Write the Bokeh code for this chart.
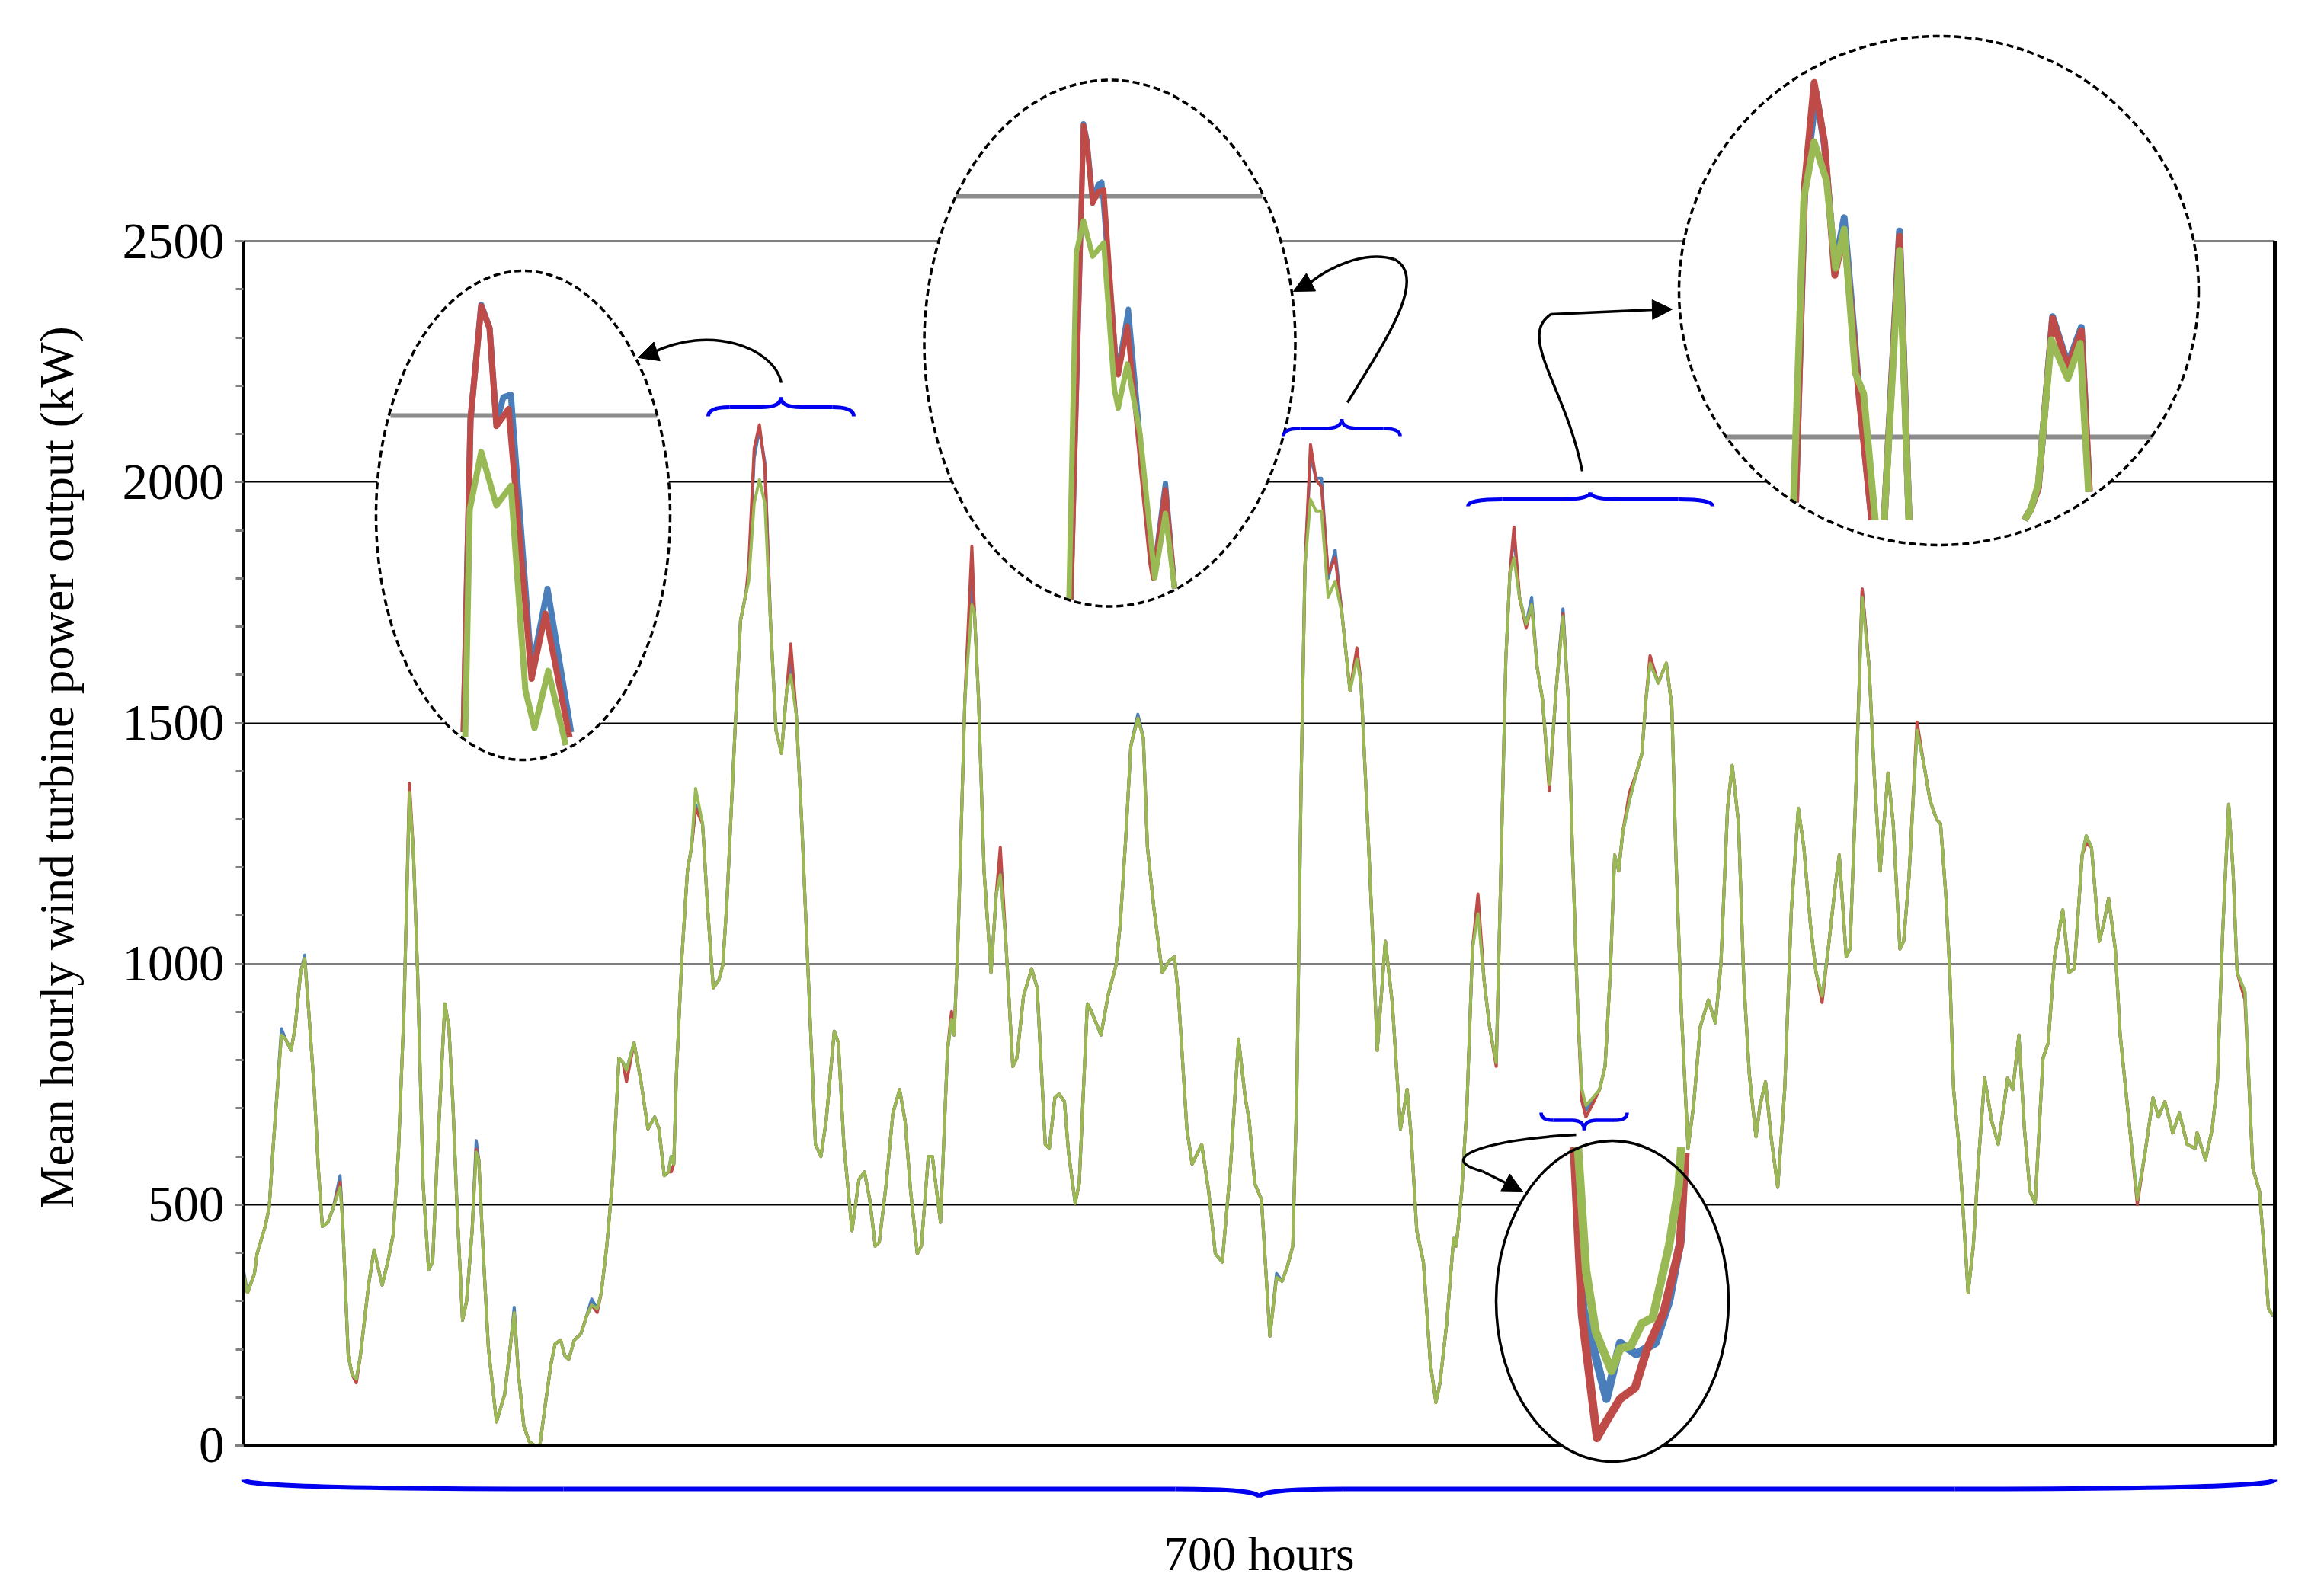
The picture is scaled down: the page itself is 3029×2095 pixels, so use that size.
from bokeh.plotting import figure
from bokeh.models import Range1d, LinearAxis, FixedTicker, Arrow, NormalHead
from bokeh.embed import file_html
from bokeh.resources import INLINE

# ---------------- main series (hour, kW) ----------------
hours = [
    0, 1.4, 3.8, 4.7, 7.5, 8.9, 10.3, 13.1, 14.5, 16.4,
    17.8, 19.7, 21.1, 22.5, 24.4, 25.8, 27.2, 29.1, 31.0, 33.3,
    34.2, 36.1, 37.5, 38.9, 40.3, 43.1, 45.0, 47.8, 49.7, 51.6,
    53.4, 55.3, 57.2, 58.6, 60.0, 61.9, 63.8, 65.2, 66.6, 69.4,
    70.8, 72.2, 73.6, 75.5, 76.9, 78.8, 80.2, 81.1, 82.5, 84.4,
    87.2, 90.0, 91.9, 93.3, 94.7, 96.6, 98.5, 100.3, 102.2, 104.1,
    106.0, 107.4, 109.3, 110.7, 112.1, 114.0, 116.3, 118.2, 120.0, 121.9,
    123.3, 125.2, 127.1, 129.4, 130.8, 132.0, 134.6, 137.0,
    139.4, 141.7, 143.2, 145.0, 146.4, 147.4, 148.3, 149.2, 151.1, 153.0,
    154.4, 155.8, 158.2, 160.0, 161.9, 163.8, 165.2, 166.6, 169.4, 171.3,
    173.2, 174.1, 176.0, 177.8, 179.7, 181.6, 183.5, 185.4, 187.2, 188.6,
    190.5, 192.4, 194.7, 197.1, 199.0, 200.8, 203.6, 205.0, 206.9, 209.7,
    212.1, 214.0, 215.8, 217.7, 219.1, 221.5, 223.8, 226.1, 228.0, 229.9,
    232.2, 233.6, 236.0, 237.4, 240.2, 242.6, 244.0, 244.9, 246.3, 248.6,
    251.0, 251.9, 253.3, 255.2, 257.6, 259.4, 260.8, 262.7, 265.1, 266.5,
    268.8, 271.6, 273.5, 276.3, 277.7, 279.6, 281.0, 282.9, 284.3,
    286.6, 288.0, 290.8, 292.2, 295.5, 297.9, 300.7, 302.1, 304.0, 305.8,
    308.2, 310.1, 311.5, 313.8, 316.6, 319.0, 320.8, 322.2, 325.1, 326.9,
    330.2, 332.6, 334.9, 337.3, 340.1, 342.9, 345.2, 346.6, 348.5, 350.8,
    353.7, 356.0, 357.9, 359.8, 361.6, 363.0, 364.5, 365.8, 367.7, 369.6,
    371.5, 373.8, 376.2, 378.5, 381.3, 383.7, 385.1, 387.4, 389.3, 390.7,
    393.5, 395.9, 398.7, 401.0, 402.4, 404.3, 406.6, 409.0, 410.9, 412.3,
    414.6, 417.0, 417.9, 419.8, 421.6, 423.5, 425.4,
    427.5, 429.4, 431.7, 433.1, 435.0, 436.4, 437.8, 439.7, 442.0, 443.9,
    445.8, 447.6, 450.0, 452.3, 454.7, 456.5, 458.0, 459.8, 461.2, 462.6,
    465.0, 467.3, 469.2, 471.0, 472.5, 473.9, 475.3, 477.6, 480.0, 481.9,
    483.3, 484.7, 487.5, 490.3, 492.2, 493.6, 495.5, 497.8, 499.7, 502.0,
    504.8, 507.2, 509.1, 511.4, 513.0, 515.2, 517.0, 518.9, 521.2, 522.6,
    524.5, 526.4, 528.7, 531.1, 533.4, 535.8, 537.7, 540.0, 541.9, 544.0,
    546.1, 548.5, 549.9, 552.3, 553.6, 555.5, 557.8, 560.2, 562.0,
    564.0, 566.7, 568.5, 570.8, 572.1, 573.9, 576.7, 578.9, 581.2, 583.5,
    584.8, 586.6, 588.0, 589.3, 591.1, 592.5, 594.3, 596.1, 597.9, 600.0,
    602.4, 604.7, 607.0, 607.9, 609.7, 611.8, 613.7, 615.6, 617.4, 620.1,
    621.9, 624.1, 626.9, 629.1, 630.9, 633.6, 635.0, 636.8, 639.5, 640.9,
    642.7, 645.0, 646.7, 650.0, 652.6, 655.3, 658.0, 659.9, 662.1, 664.8,
    667.1, 669.8, 672.5, 673.2, 676.1, 678.4, 680.2, 682.0, 684.1, 685.6,
    687.0, 689.7, 692.4, 694.7, 696.0, 697.8, 699.5,
]

green = [
    357, 317, 357, 398, 455, 495, 625, 852, 844, 820,
    868, 982, 1011, 901, 739, 576, 455, 463, 495, 536,
    463, 187, 146, 138, 187, 333, 406, 333, 381, 438,
    609, 901, 1356, 1226, 982, 544, 365, 381, 576, 917,
    869, 706, 495, 260, 300, 446, 609, 593, 414, 203,
    49, 106, 203, 276, 154, 41, 8, 0, 3, 89,
    170, 211, 219, 187, 179, 219, 232, 268, 292, 284,
    317, 414, 544, 804, 795, 779, 836, 755,
    657, 682, 657, 560, 568, 600, 584, 771, 1015, 1193,
    1242, 1364, 1291, 1112, 950, 966, 998, 1128, 1485, 1713,
    1770, 1794, 1956, 2005, 1956, 1713, 1485, 1437, 1567, 1599,
    1518, 1291, 966, 625, 600, 674, 860, 836, 625, 446,
    552, 568, 511, 414, 422, 544, 690, 739, 674, 528,
    398, 414, 600, 600, 463, 820, 885, 852, 1063, 1550,
    1745, 1729, 1550, 1193, 982, 1145, 1185, 1047, 787, 804,
    933, 990, 950, 625, 617, 722, 730, 714, 609,
    503, 544, 917, 901, 852, 933, 998, 1080, 1258, 1453,
    1510, 1469, 1242, 1112, 982, 1006, 1015, 933, 657, 584,
    625, 528, 398, 381, 576, 844, 722, 674, 544, 511,
    227, 349, 341, 373, 414, 739, 1388, 1826, 1964, 1940,
    1940, 1761, 1794, 1729, 1567, 1632, 1583, 1291, 1031, 820,
    1047, 917, 657, 739, 641, 446, 381, 170, 89, 130,
    252, 430, 414, 528, 706, 1031, 1104,
    966, 869, 795, 1145, 1632, 1810, 1843, 1761, 1705, 1745,
    1615, 1550, 1372, 1567, 1721, 1550, 1226, 901, 739, 706,
    722, 739, 787, 982, 1226, 1193, 1274, 1339, 1396, 1437,
    1550, 1624, 1583, 1624, 1534, 1226, 901, 617, 706, 869,
    925, 877, 998, 1323, 1412, 1291, 966, 771, 641, 706,
    755, 641, 536, 739, 1112, 1323, 1242, 1080, 982, 933,
    1031, 1161, 1226, 1015, 1031, 1339, 1761, 1615, 1388,
    1193, 1396, 1291, 1031, 1047, 1177, 1485, 1420, 1339, 1299,
    1291, 1145, 982, 739, 625, 495, 317, 414, 593, 763,
    674, 625, 722, 763, 739, 852, 657, 528, 503, 804,
    836, 1015, 1112, 982, 990, 1226, 1266, 1242, 1047, 1080,
    1136, 1031, 852, 657, 511, 609, 722, 682, 714, 649,
    690, 625, 617, 649, 593, 657, 755, 1063, 1331, 1193,
    982, 942, 576, 528, 430, 284, 268,
]

red = [
    357, 317, 357, 398, 455, 495, 625, 852, 844, 820,
    868, 982, 1011, 901, 739, 576, 455, 463, 495, 547,
    463, 187, 146, 130, 187, 333, 406, 333, 381, 438,
    609, 901, 1375, 1226, 982, 544, 365, 381, 576, 917,
    869, 706, 495, 260, 300, 446, 615, 593, 414, 203,
    49, 106, 203, 276, 154, 41, 8, 0, 3, 89,
    170, 211, 219, 187, 179, 219, 232, 268, 292, 276,
    317, 414, 544, 804, 795, 755, 836, 755,
    657, 682, 657, 560, 568, 568, 584, 771, 1015, 1193,
    1242, 1323, 1291, 1112, 950, 966, 998, 1128, 1485, 1713,
    1770, 1826, 2070, 2119, 2030, 1713, 1485, 1437, 1567, 1664,
    1518, 1291, 966, 625, 600, 674, 860, 836, 625, 446,
    552, 568, 511, 414, 422, 544, 690, 739, 674, 528,
    398, 414, 600, 600, 463, 820, 901, 852, 1063, 1550,
    1867, 1729, 1550, 1193, 982, 1145, 1242, 1047, 787, 804,
    933, 990, 950, 625, 617, 722, 730, 714, 609,
    503, 544, 917, 901, 852, 933, 998, 1080, 1258, 1453,
    1510, 1469, 1242, 1112, 982, 1006, 1015, 933, 657, 584,
    625, 528, 398, 381, 576, 844, 722, 674, 544, 511,
    227, 349, 341, 373, 414, 739, 1388, 1826, 2078, 2005,
    1990, 1810, 1843, 1729, 1567, 1656, 1583, 1291, 1031, 820,
    1047, 917, 657, 739, 641, 446, 381, 170, 89, 130,
    252, 430, 414, 528, 706, 1031, 1145,
    966, 869, 787, 1145, 1632, 1810, 1907, 1761, 1697, 1745,
    1615, 1550, 1359, 1567, 1727, 1550, 1226, 901, 715, 682,
    710, 739, 787, 982, 1226, 1193, 1274, 1356, 1396, 1437,
    1550, 1640, 1583, 1624, 1534, 1226, 901, 617, 706, 869,
    925, 877, 998, 1323, 1412, 1291, 966, 771, 641, 706,
    755, 641, 536, 739, 1112, 1323, 1242, 1080, 982, 920,
    1031, 1161, 1226, 1015, 1031, 1339, 1778, 1615, 1388,
    1193, 1396, 1291, 1031, 1047, 1177, 1502, 1420, 1339, 1299,
    1291, 1145, 982, 739, 625, 495, 317, 414, 593, 763,
    674, 625, 722, 763, 739, 852, 657, 528, 503, 804,
    836, 1015, 1112, 982, 990, 1226, 1250, 1242, 1047, 1080,
    1136, 1031, 852, 657, 500, 609, 722, 682, 714, 649,
    690, 625, 617, 649, 593, 657, 755, 1063, 1331, 1193,
    982, 925, 576, 528, 430, 284, 268,
]

blue = [
    365, 317, 357, 398, 455, 495, 625, 865, 844, 820,
    868, 982, 1018, 901, 739, 576, 455, 463, 495, 560,
    463, 187, 146, 138, 187, 333, 406, 333, 381, 438,
    609, 901, 1356, 1226, 982, 544, 365, 381, 576, 917,
    869, 706, 495, 260, 300, 446, 633, 593, 414, 203,
    49, 106, 203, 287, 154, 41, 8, 0, 3, 89,
    170, 211, 219, 187, 179, 219, 232, 268, 304, 284,
    317, 414, 544, 804, 795, 779, 836, 755,
    657, 682, 657, 560, 568, 600, 584, 771, 1015, 1193,
    1242, 1330, 1291, 1112, 950, 966, 998, 1128, 1485, 1713,
    1770, 1810, 2050, 2110, 2040, 1713, 1485, 1437, 1567, 1632,
    1518, 1291, 966, 625, 600, 674, 860, 836, 625, 446,
    552, 568, 511, 414, 422, 544, 690, 739, 674, 528,
    398, 414, 600, 600, 463, 820, 885, 852, 1063, 1550,
    1794, 1729, 1550, 1193, 982, 1145, 1193, 1047, 787, 804,
    933, 990, 950, 625, 617, 722, 730, 714, 609,
    503, 544, 917, 901, 852, 933, 998, 1080, 1258, 1453,
    1518, 1469, 1242, 1112, 982, 1006, 1015, 933, 657, 584,
    625, 528, 398, 381, 576, 844, 722, 674, 544, 511,
    227, 357, 341, 373, 414, 739, 1388, 1826, 2054, 2008,
    2008, 1800, 1859, 1729, 1567, 1645, 1583, 1291, 1031, 820,
    1047, 917, 657, 739, 641, 446, 381, 170, 89, 130,
    252, 430, 414, 528, 706, 1031, 1120,
    966, 869, 795, 1145, 1632, 1810, 1890, 1761, 1705, 1761,
    1615, 1550, 1372, 1567, 1737, 1550, 1226, 901, 739, 696,
    716, 739, 787, 982, 1226, 1193, 1274, 1339, 1396, 1437,
    1550, 1624, 1583, 1624, 1534, 1226, 901, 617, 706, 869,
    925, 877, 998, 1323, 1412, 1291, 966, 771, 641, 706,
    755, 641, 536, 739, 1112, 1323, 1242, 1080, 982, 933,
    1031, 1161, 1226, 1015, 1031, 1339, 1778, 1615, 1388,
    1193, 1396, 1291, 1031, 1047, 1177, 1485, 1420, 1339, 1299,
    1291, 1145, 982, 739, 625, 495, 317, 414, 593, 763,
    674, 625, 722, 763, 739, 852, 657, 528, 503, 804,
    836, 1015, 1112, 982, 990, 1226, 1266, 1242, 1047, 1080,
    1136, 1031, 852, 657, 511, 609, 722, 682, 714, 649,
    690, 625, 617, 649, 593, 657, 755, 1063, 1331, 1193,
    982, 942, 576, 528, 430, 284, 268,
]

y_major = [0, 500, 1000, 1500, 2000, 2500]
y_minor = [100, 200, 300, 400, 600, 700, 800, 900, 1100, 1200, 1300, 1400,
           1600, 1700, 1800, 1900, 2100, 2200, 2300, 2400]

# ---------------- zoomed insets (local hour, kW) ----------------
inset1_green_h = [175.23, 175.90, 177.58, 179.81, 181.93, 184.06, 185.40, 187.41, 189.98]
inset1_green_v = [1753, 1928, 1972, 1931, 1946, 1789, 1760, 1804, 1747]
inset1_red_h = [175.01, 176.01, 177.58, 178.81, 179.81, 181.60, 184.97, 186.99, 190.54]
inset1_red_v = [1757, 1997, 2084, 2067, 1992, 2005, 1798, 1848, 1753]
inset1_blue_h = [175.01, 176.01, 177.58, 178.81, 179.81, 180.82, 181.93, 184.97, 187.30, 190.76]
inset1_blue_v = [1757, 1997, 2085, 2067, 1994, 2014, 2016, 1804, 1867, 1757]
inset1_ref = 2000

inset2_green_h = [364.75, 366.20, 367.62, 369.43, 371.61, 373.72, 374.47, 376.27, 378.78, 381.68, 383.79, 385.59]
inset2_green_v = [1543, 1936, 1972, 1932, 1947, 1781, 1760, 1810, 1731, 1568, 1641, 1556]
inset2_red_h = [365.11, 367.62, 368.30, 369.43, 370.51, 371.61, 374.11, 374.47, 376.27, 380.93, 381.44, 383.79, 385.59]
inset2_red_v = [1543, 2080, 2061, 1992, 2005, 2007, 1802, 1798, 1853, 1585, 1568, 1668, 1556]
inset2_blue_h = [365.11, 367.62, 368.30, 369.43, 370.51, 371.23, 374.11, 374.47, 376.48, 380.93, 381.44, 383.79, 385.59]
inset2_blue_v = [1543, 2082, 2063, 1996, 2013, 2016, 1808, 1803, 1872, 1588, 1571, 1675, 1556]
inset2_ref = 2000

inset3_green_h = [[433.79, 435.82, 437.85, 440.30, 442.09, 443.78, 445.99, 447.62, 449.91],
                  [451.69, 454.70, 456.58],
                  [479.36, 480.60, 482.08, 484.66, 487.92, 490.36, 491.99]]
inset3_green_v = [[1426, 1770, 1834, 1790, 1691, 1735, 1572, 1549, 1406],
                  [1406, 1711, 1406],
                  [1406, 1418, 1446, 1610, 1566, 1606, 1438]]
inset3_red_h = [[434.19, 436.00, 437.85, 439.89, 441.92, 443.78, 446.81, 449.23],
                [451.69, 454.70, 456.58],
                [479.36, 480.60, 482.08, 484.91, 487.92, 490.58, 492.16]]
inset3_red_v = [[1426, 1787, 1901, 1834, 1683, 1731, 1541, 1406],
                [1406, 1727, 1406],
                [1406, 1418, 1442, 1634, 1578, 1620, 1438]]
inset3_blue_h = [[434.19, 436.00, 438.25, 439.89, 441.92, 443.78, 446.81, 449.23],
                 [451.69, 454.70, 456.58],
                 [479.36, 480.60, 482.08, 484.91, 487.92, 490.58, 492.16]]
inset3_blue_v = [[1426, 1783, 1889, 1830, 1692, 1748, 1546, 1406],
                 [1406, 1733, 1406],
                 [1406, 1418, 1442, 1636, 1582, 1624, 1438]]
inset3_ref = 1500

inset4_green_h = [459.99, 460.61, 461.35, 462.56, 463.23, 464.06, 464.90, 465.73, 466.99, 467.72, 467.92]
inset4_green_v = [786, 742, 720, 706, 714, 715, 723, 725, 751, 772, 786]
inset4_red_h = [459.68, 460.30, 461.45, 462.18, 463.23, 464.38, 465.31, 466.57, 467.82, 468.24]
inset4_red_v = [786, 726, 682, 688, 696, 700, 714, 727, 751, 784]
inset4_blue_h = [459.78, 460.41, 462.18, 463.23, 464.47, 465.93, 466.99, 467.92, 468.13]
inset4_blue_v = [786, 728, 696, 716, 712, 716, 731, 754, 784]

# ---------------- styling / layout ----------------
FONT = "Liberation Serif"
C_BLUE, C_RED, C_GREEN = "#4A7EBB", "#BE4B48", "#98B954"
C_BRACE, C_GREY = "#0000EE", "#8C8C8C"

FRAME_LEFT, FRAME_TOP, FRAME_W, FRAME_H = 319, 38, 2666, 1938   # page pixels
PAGE_OFF = 0                                                    # figure origin on page
X0, X1 = 0, 700
Y0, Y1 = -125, 2940
XS = FRAME_W / (X1 - X0)
YS = FRAME_H / (Y1 - Y0)


def hx(X):
    return X0 + (X - FRAME_LEFT) / XS


def vy(Y):
    return Y1 - (Y - FRAME_TOP) / YS


p = figure(frame_width=FRAME_W, frame_height=FRAME_H,
           x_range=Range1d(X0, X1), y_range=Range1d(Y0, Y1),
           output_backend="svg", toolbar_location=None,
           min_border_left=FRAME_LEFT - PAGE_OFF, min_border_top=FRAME_TOP - PAGE_OFF,
           min_border_right=40, min_border_bottom=115,
           outline_line_color=None, background_fill_color="white",
           border_fill_color="white")

# grid
p.xgrid.visible = False
p.ygrid.ticker = FixedTicker(ticks=y_major)
p.ygrid.grid_line_color = "black"
p.ygrid.grid_line_width = 2

# y axis
yax = p.yaxis[0]
yax.ticker = FixedTicker(ticks=y_major, minor_ticks=y_minor)
yax.bounds = (0, 2500)
yax.axis_label = "Mean hourly wind turbine power output (kW)"
yax.axis_label_text_font = FONT
yax.axis_label_text_font_size = "63px"
yax.axis_label_text_font_style = "normal"
yax.axis_label_text_color = "black"
yax.axis_label_standoff = 48
yax.major_label_text_font = FONT
yax.major_label_text_font_size = "67px"
yax.major_label_text_color = "black"
yax.major_label_standoff = 14
yax.major_tick_out = 11
yax.major_tick_in = 0
yax.major_tick_line_color = "#808080"
yax.major_tick_line_width = 3
yax.minor_tick_out = 10
yax.minor_tick_in = 0
yax.minor_tick_line_color = "#808080"
yax.minor_tick_line_width = 3
yax.axis_line_width = 4
yax.axis_line_color = "black"

# x axis: label only
xax = p.xaxis[0]
xax.ticker = FixedTicker(ticks=[])
xax.axis_line_color = None
xax.major_tick_line_color = None
xax.minor_tick_line_color = None
xax.major_label_text_font_size = "0px"
xax.axis_label = "700 hours"
xax.axis_label_text_font = FONT
xax.axis_label_text_font_size = "63px"
xax.axis_label_text_font_style = "normal"
xax.axis_label_text_color = "black"
xax.axis_label_standoff = 28

# base line at 0
base = LinearAxis(fixed_location=0, ticker=FixedTicker(ticks=[]),
                  axis_line_width=4, axis_line_color="black",
                  major_tick_line_color=None, minor_tick_line_color=None,
                  major_label_text_font_size="0px")
p.add_layout(base, "below")

# right border
rax = LinearAxis(bounds=(0, 2500), ticker=FixedTicker(ticks=[]),
                 axis_line_width=5, axis_line_color="black",
                 major_tick_line_color=None, minor_tick_line_color=None,
                 major_label_text_font_size="0px")
p.add_layout(rax, "right")

# main series
for ys, col in ((blue, C_BLUE), (red, C_RED), (green, C_GREEN)):
    p.line(hours, ys, line_color=col, line_width=4, line_join="round")

# ---------------- insets ----------------
insets = [
    dict(name="i1", ha=177.8, va=2000, Xa=633, Ya=545, b=8.95, d=1.71,
         ell=(686, 676, 386, 642), dash=True, lw=8, ref=inset1_ref, ref_px=(512, 862),
         series=[(inset1_blue_h, inset1_blue_v), (inset1_red_h, inset1_red_v), (inset1_green_h, inset1_green_v)]),
    dict(name="i2", ha=367.7, va=2000, Xa=1422, Ya=257, b=6.65, d=1.16,
         ell=(1456, 450, 487, 691), dash=True, lw=7, ref=inset2_ref, ref_px=(1254, 1656),
         series=[(inset2_blue_h, inset2_blue_v), (inset2_red_h, inset2_red_v), (inset2_green_h, inset2_green_v)]),
    dict(name="i3", ha=437.8, va=1500, Xa=2380, Ya=573, b=6.65, d=1.16,
         ell=(2544, 381, 682, 668), dash=True, lw=9, ref=inset3_ref, ref_px=(2264, 2824),
         series=[(inset3_blue_h, inset3_blue_v), (inset3_red_h, inset3_red_v), (inset3_green_h, inset3_green_v)]),
    dict(name="i4", ha=462.6, va=706, Xa=2115, Ya=1799, b=17.1, d=3.67,
         ell=(2115.5, 1707.5, 305, 421), dash=False, lw=11, ref=None, ref_px=None,
         series=[(inset4_blue_h, inset4_blue_v), (inset4_red_h, inset4_red_v), (inset4_green_h, inset4_green_v)]),
]

p.extra_x_ranges = {}
p.extra_y_ranges = {}
for ins in insets:
    xs0 = ins["ha"] + (FRAME_LEFT - ins["Xa"]) / ins["b"]
    xs1 = ins["ha"] + (FRAME_LEFT + FRAME_W - ins["Xa"]) / ins["b"]
    ys0 = ins["va"] + (ins["Ya"] - (FRAME_TOP + FRAME_H)) / ins["d"]
    ys1 = ins["va"] + (ins["Ya"] - FRAME_TOP) / ins["d"]
    p.extra_x_ranges[ins["name"] + "x"] = Range1d(xs0, xs1)
    p.extra_y_ranges[ins["name"] + "y"] = Range1d(ys0, ys1)

for ins in insets:
    cx, cy, w, h = ins["ell"]
    ex, ey, ew, eh = hx(cx), vy(cy), w / XS, h / YS
    p.ellipse(x=[ex], y=[ey], width=[ew], height=[eh], fill_color="white",
              line_color=None, level="overlay")
    rx, ry = ins["name"] + "x", ins["name"] + "y"
    if ins["ref"] is not None:
        ga = ins["ha"] + (ins["ref_px"][0] - ins["Xa"]) / ins["b"]
        gb = ins["ha"] + (ins["ref_px"][1] - ins["Xa"]) / ins["b"]
        p.line([ga, gb], [ins["ref"], ins["ref"]], x_range_name=rx, y_range_name=ry,
               line_color=C_GREY, line_width=6, level="overlay")
    for (sh, sv), col in zip(ins["series"], (C_BLUE, C_RED, C_GREEN)):
        if isinstance(sh[0], list):
            p.multi_line(sh, sv, x_range_name=rx, y_range_name=ry, line_color=col,
                         line_width=ins["lw"], line_join="round", level="overlay")
        else:
            p.line(sh, sv, x_range_name=rx, y_range_name=ry, line_color=col,
                   line_width=ins["lw"], line_join="round", level="overlay")
    if ins["dash"]:
        p.ellipse(x=[ex], y=[ey], width=[ew], height=[eh], fill_color=None,
                  line_color="black", line_width=3.5, line_dash="9 5", level="overlay")
    else:
        p.ellipse(x=[ex], y=[ey], width=[ew], height=[eh], fill_color=None,
                  line_color="black", line_width=3.5, level="overlay")

# ---------------- braces (page px geometry) ----------------
braces = [
    # Xa, Xb, Yflat, end offset(px, +down), tip offset(px, +down), r_end, r_tip, width
    (929, 1120, 534, 12, -13, 28, 26, 5),
    (1684, 1837, 562, 10, -12.5, 22, 22, 4.5),
    (1926, 2247, 655, 9, -9, 45, 40, 5),
    (2022, 2135, 1470, -10, 13, 16, 16, 4.5),
    (319, 2985, 1954, -12, 11, 420, 110, 6),
]
for Xa, Xb, Yf, eo, to, re, rt, lw in braces:
    Xm = (Xa + Xb) / 2
    qx0 = [hx(Xa), hx(Xm - rt), hx(Xm), hx(Xb - re)]
    qy0 = [vy(Yf + eo), vy(Yf), vy(Yf + to), vy(Yf)]
    qx1 = [hx(Xa + re), hx(Xm), hx(Xm + rt), hx(Xb)]
    qy1 = [vy(Yf), vy(Yf + to), vy(Yf), vy(Yf + eo)]
    qcx = [hx(Xa), hx(Xm), hx(Xm), hx(Xb)]
    qcy = [vy(Yf)] * 4
    p.quadratic(x0=qx0, y0=qy0, x1=qx1, y1=qy1, cx=qcx, cy=qcy,
                line_color=C_BRACE, line_width=lw, level="overlay")
    p.segment(x0=[hx(Xa + re), hx(Xm + rt)], y0=[vy(Yf)] * 2,
              x1=[hx(Xm - rt), hx(Xb - re)], y1=[vy(Yf)] * 2,
              line_color=C_BRACE, line_width=lw, level="overlay")

# ---------------- connector arrows (page px geometry) ----------------
curves = [
    ((1025, 502), (1015, 455), (930, 425), (855, 463)),
    ((1768, 528), (1815, 450), (1875, 365), (1830, 340)),
    ((1830, 340), (1790, 328), (1745, 350), (1718, 371)),
    ((2076, 618), (2055, 510), (1990, 440), (2035, 412)),
    ((2068, 1489), (1950, 1495), (1880, 1520), (1945, 1537)),
]
p.bezier(x0=[hx(c[0][0]) for c in curves], y0=[vy(c[0][1]) for c in curves],
         cx0=[hx(c[1][0]) for c in curves], cy0=[vy(c[1][1]) for c in curves],
         cx1=[hx(c[2][0]) for c in curves], cy1=[vy(c[2][1]) for c in curves],
         x1=[hx(c[3][0]) for c in curves], y1=[vy(c[3][1]) for c in curves],
         line_color="black", line_width=3.5, level="overlay")
straights = [((2035, 412), (2170, 406)), ((1945, 1537), (1975, 1552))]
p.segment(x0=[hx(s[0][0]) for s in straights], y0=[vy(s[0][1]) for s in straights],
          x1=[hx(s[1][0]) for s in straights], y1=[vy(s[1][1]) for s in straights],
          line_color="black", line_width=3.5, level="overlay")
heads = [((855, 463), (837, 469)), ((1718, 371), (1697, 382)),
         ((2170, 406), (2194, 405.5)), ((1975, 1552), (1998, 1564))]
for (sx, sy), (tx, ty) in heads:
    p.add_layout(Arrow(end=NormalHead(size=26, fill_color="black", line_color="black"),
                       x_start=hx(sx), y_start=vy(sy), x_end=hx(tx), y_end=vy(ty),
                       line_color="black", line_width=3.5))

open("out.html", "w").write(file_html(p, INLINE))
